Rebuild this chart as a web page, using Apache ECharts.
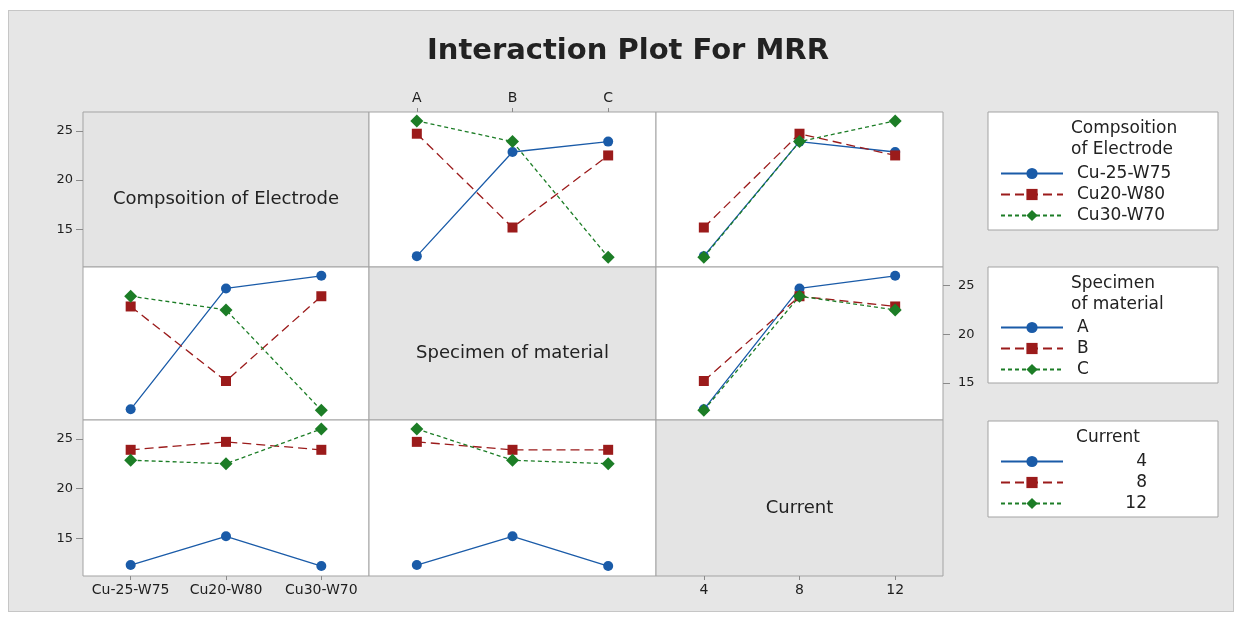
<!DOCTYPE html>
<html>
<head>
<meta charset="utf-8">
<title>Interaction Plot For MRR</title>
<script src="https://cdn.jsdelivr.net/npm/echarts@6/dist/echarts.min.js"></script>
<style>
  html, body { margin: 0; padding: 0; background: #fff; }
  #wrap { position: relative; width: 1241px; height: 620px; }
  #frame { position: absolute; left: 8px; top: 10px; width: 1224px; height: 600px; background: #e6e6e6; border: 1px solid #c6c6c6; }
  #chart { position: absolute; left: 0; top: 0; width: 1241px; height: 620px; }
</style>
</head>
<body>
<div id="wrap">
  <div id="frame"></div>
  <div id="chart"></div>
</div>
<script>
// factor levels
const compositions = ["Cu-25-W75", "Cu20-W80", "Cu30-W70"];
const specimens = ["A", "B", "C"];
const currents = ["4", "8", "12"];

// L9 runs, one MRR value per run
const runComposition = ["Cu-25-W75", "Cu-25-W75", "Cu-25-W75", "Cu20-W80", "Cu20-W80", "Cu20-W80", "Cu30-W70", "Cu30-W70", "Cu30-W70"];
const runSpecimen = ["A", "B", "C", "A", "B", "C", "A", "B", "C"];
const runCurrent = ["4", "12", "8", "8", "4", "12", "12", "8", "4"];
const runMRR = [12.3, 22.85, 23.9, 24.7, 15.2, 22.5, 26.0, 23.9, 12.2];

// y axis
const yTicks = [15, 20, 25];
const yMin = 11.2;
const yMax = 26.9;

const factorNames = ["Compsoition of Electrode", "Specimen of material", "Current"];
const legendTitles = [["Compsoition", "of Electrode"], ["Specimen", "of material"], ["Current"]];
const factorLevels = [compositions, specimens, currents];
const runLevels = [runComposition, runSpecimen, runCurrent];

const FONT = "DejaVu Sans";
const colors = ["#1a5ba8", "#9b1b1b", "#1c7d26"];
const symbols = ["circle", "rect", "diamond"];
const symbolSizes = [10, 10, 13];
const lineTypes = ["solid", [9, 5], [4, 3]];

const colEdges = [83, 369, 656, 943];
const rowEdges = [112, 267, 420, 576];

// which panels carry tick labels
const xLabelPanels = { "0,1": true, "2,0": true, "2,2": true };
const yLabelPanels = { "0,0": true, "2,0": true, "1,2": true };

function mrrAt(rf, rl, cf, cl) {
  for (let k = 0; k < runMRR.length; k++) {
    if (runLevels[rf][k] === rl && runLevels[cf][k] === cl) return runMRR[k];
  }
  return null;
}

const grids = [];
const xAxes = [];
const yAxes = [];
const series = [];
const graphics = [];

for (let r = 0; r < 3; r++) {
  for (let c = 0; c < 3; c++) {
    const idx = r * 3 + c;
    const key = r + "," + c;
    const diag = r === c;
    const showX = !!xLabelPanels[key];
    const showY = !!yLabelPanels[key];

    grids.push({
      show: true,
      left: colEdges[c],
      top: rowEdges[r],
      width: colEdges[c + 1] - colEdges[c],
      height: rowEdges[r + 1] - rowEdges[r],
      backgroundColor: diag ? "#e4e4e4" : "#ffffff",
      borderColor: "#a3a3a3",
      borderWidth: 1,
    });

    xAxes.push({
      gridIndex: idx,
      type: "category",
      data: factorLevels[c],
      boundaryGap: true,
      position: r === 0 ? "top" : "bottom",
      axisLine: { show: false },
      splitLine: { show: false },
      axisTick: { show: showX, interval: 0, alignWithLabel: true, length: 4, lineStyle: { color: "#8a8a8a" } },
      axisLabel: { show: showX, interval: 0, hideOverlap: false, color: "#1e1e1e", fontFamily: FONT, fontSize: 14, margin: 7 },
    });

    yAxes.push({
      gridIndex: idx,
      type: "value",
      min: yMin,
      max: yMax,
      position: c === 2 ? "right" : "left",
      axisLine: { show: false },
      splitLine: { show: false },
      axisTick: { show: showY, length: 7, customValues: yTicks, lineStyle: { color: "#8a8a8a" } },
      axisLabel: { show: showY, customValues: yTicks, color: "#1e1e1e", fontFamily: FONT, fontSize: 13, margin: c === 2 ? 15 : 10 },
    });

    if (diag) {
      graphics.push({
        type: "text",
        x: (colEdges[c] + colEdges[c + 1]) / 2,
        y: (rowEdges[r] + rowEdges[r + 1]) / 2 + 10,
        style: {
          text: factorNames[r],
          fill: "#222",
          font: "18px '" + FONT + "'",
          textAlign: "center",
          textVerticalAlign: "middle",
        },
      });
      continue;
    }

    // one line per level of the row factor, across the column factor
    factorLevels[r].forEach((lvl, i) => {
      series.push({
        type: "line",
        name: lvl,
        xAxisIndex: idx,
        yAxisIndex: idx,
        data: factorLevels[c].map((cl) => mrrAt(r, lvl, c, cl)),
        color: colors[i],
        symbol: symbols[i],
        symbolSize: symbolSizes[i],
        lineStyle: { width: 1.3, type: lineTypes[i], color: colors[i] },
        itemStyle: { color: colors[i] },
        animation: false,
      });
    });
  }
}

// legend boxes and their titles
const legendBoxes = [
  { top: 112, height: 118 },
  { top: 267, height: 116 },
  { top: 421, height: 96 },
];
const legendTops = [160, 314, 448];

legendBoxes.forEach((b, r) => {
  graphics.push({
    type: "rect",
    shape: { x: 988, y: b.top, width: 230, height: b.height },
    style: { fill: "#ffffff", stroke: "#a3a3a3", lineWidth: 1 },
    z: -1,
  });
  legendTitles[r].forEach((t, j) => {
    graphics.push({
      type: "text",
      x: r === 2 ? 1108 : 1071,
      y: b.top + 17 + j * 21,
      style: {
        text: t,
        fill: "#222",
        font: "17px '" + FONT + "'",
        textAlign: r === 2 ? "center" : "left",
        textVerticalAlign: "middle",
      },
    });
  });
});

const legends = [0, 1, 2].map((r) => ({
  data: factorLevels[r],
  orient: "vertical",
  left: 995,
  top: legendTops[r],
  itemWidth: 62,
  itemHeight: 14,
  itemGap: 4,
  selectedMode: false,
  formatter: r === 2 ? "{n|{name}}" : "{t|{name}}",
  textStyle: {
    color: "#222",
    fontFamily: FONT,
    fontSize: 17,
    lineHeight: 16,
    rich: {
      t: { fontFamily: FONT, fontSize: 17, padding: [0, 0, 0, 9] },
      n: { fontFamily: FONT, fontSize: 17, width: 79, align: "right" },
    },
  },
}));

const chart = echarts.init(document.getElementById("chart"));

const option = {
  animation: false,
  title: {
    text: "Interaction Plot For MRR",
    left: 623,
    top: 32,
    textAlign: "center",
    textStyle: { fontFamily: FONT, fontSize: 29, fontWeight: "bold", color: "#222" },
  },
  legend: legends,
  grid: grids,
  xAxis: xAxes,
  yAxis: yAxes,
  series: series,
  graphic: graphics,
};

chart.setOption(option);
</script>
</body>
</html>
